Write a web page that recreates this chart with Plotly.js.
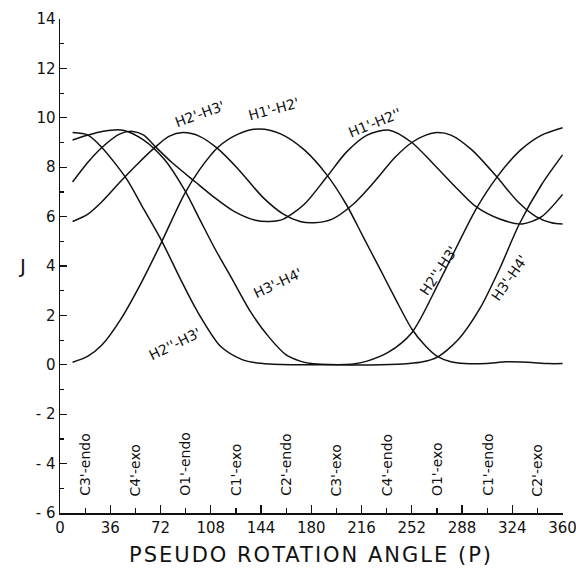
<!DOCTYPE html>
<html>
<head>
<meta charset="utf-8">
<script src="https://cdn.plot.ly/plotly-3.0.1.min.js"></script>
<style>html,body{margin:0;padding:0;background:#fff;}#chart{width:576px;height:574px;}</style>
</head>
<body>
<div id="chart"></div>
<script>
// Pseudorotation angle P (degrees) and coupling constant J (Hz) for each proton pair
const P_H2pp_H3p = [9, 20, 30, 48, 60, 73, 86, 98, 115, 130, 138, 150, 180, 210, 220, 235, 252, 272, 298, 313, 330, 345, 360];
const J_H2pp_H3p = [9.4, 9.3, 8.8, 7.5, 6.3, 5.0, 3.5, 2.2, 0.75, 0.22, 0.1, 0.03, 0.0, 0.03, 0.15, 0.5, 1.3, 3.4, 6.3, 7.6, 8.7, 9.3, 9.6];

const P_H3p_H4p = [9, 20, 30, 45, 60, 75, 89, 100, 110, 124, 137, 150, 162, 172, 180, 200, 230, 250, 260, 270, 285, 301, 315, 329, 345, 360];
const J_H3p_H4p = [9.1, 9.3, 9.45, 9.5, 9.1, 8.3, 7.1, 5.9, 4.8, 3.4, 2.1, 1.1, 0.4, 0.15, 0.05, 0.0, 0.0, 0.05, 0.12, 0.3, 1.0, 2.3, 3.9, 5.7, 7.3, 8.5];

const P_H1p_H2p = [9, 20, 30, 43, 58, 73, 89, 100, 113, 128, 143, 158, 175, 191, 205, 217, 229, 240, 252, 262, 270, 280, 290, 305, 320, 335, 350, 360];
const J_H1p_H2p = [0.1, 0.35, 0.8, 1.8, 3.3, 5.0, 6.9, 7.9, 8.8, 9.35, 9.55, 9.35, 8.7, 7.7, 6.5, 5.2, 3.9, 2.7, 1.45, 0.75, 0.35, 0.12, 0.05, 0.05, 0.12, 0.1, 0.05, 0.05];

const P_H1p_H2pp = [9, 20, 30, 43, 52, 60, 68, 80, 97, 110, 125, 140, 150, 160, 175, 191, 205, 220, 236, 252, 268, 285, 298, 315, 331, 345, 360];
const J_H1p_H2pp = [7.4, 8.2, 8.8, 9.35, 9.45, 9.3, 8.85, 8.2, 7.4, 6.8, 6.2, 5.85, 5.8, 5.9, 6.5, 7.6, 8.6, 9.3, 9.5, 9.0, 8.1, 7.1, 6.4, 5.9, 5.7, 6.0, 6.9];

const P_H2p_H3p = [9, 20, 30, 43, 55, 68, 78, 88, 100, 113, 128, 145, 160, 172, 182, 195, 210, 225, 240, 252, 262, 270, 280, 295, 313, 328, 341, 352, 360];
const J_H2p_H3p = [5.8, 6.1, 6.6, 7.4, 8.1, 8.8, 9.25, 9.4, 9.25, 8.75, 7.9, 6.8, 6.1, 5.8, 5.75, 5.9, 6.5, 7.4, 8.4, 9.0, 9.3, 9.4, 9.3, 8.7, 7.6, 6.6, 6.0, 5.75, 5.7];

// Axis ticks
const xTickVals = [0, 36, 72, 108, 144, 180, 216, 252, 288, 324, 360];
const xTickText = ["0", "36", "72", "108", "144", "180", "216", "252", "288", "324", "360"];
const yTickVals = [-6, -4, -2, 0, 2, 4, 6, 8, 10, 12, 14];
const yTickText = ["- 6", "- 4", "- 2", "0", "2", "4", "6", "8", "10", "12", "14"];

// Ring conformations along the pseudorotation cycle
const conformP = [18, 54, 90, 126, 162, 198, 234, 270, 306, 342];
const conformNames = ["C3'-endo", "C4'-exo", "O1'-endo", "C1'-exo", "C2'-endo", "C3'-exo", "C4'-endo", "O1'-exo", "C1'-endo", "C2'-exo"];

// Curve labels: text, P, J, angle
const labelText = ["H2'-H3'", "H1'-H2'", "H1'-H2''", "H3'-H4'", "H2''-H3'", "H2''-H3'", "H3'-H4'"];
const labelP = [100, 153, 225, 156, 82, 271, 322];
const labelJ = [10.15, 10.35, 9.8, 3.3, 0.85, 3.8, 3.5];
const labelAngle = [-20, -15, -22, -25, -26, -56, -55];

const lineStyle = {color: '#111', width: 1.5, shape: 'spline', smoothing: 0.8};
const series = [
  [P_H2pp_H3p, J_H2pp_H3p, "H2''-H3'"],
  [P_H3p_H4p, J_H3p_H4p, "H3'-H4'"],
  [P_H1p_H2p, J_H1p_H2p, "H1'-H2'"],
  [P_H1p_H2pp, J_H1p_H2pp, "H1'-H2''"],
  [P_H2p_H3p, J_H2p_H3p, "H2'-H3'"]
];
const traces = series.map(s => ({x: s[0], y: s[1], name: s[2], mode: 'lines', line: lineStyle, hoverinfo: 'x+y+name'}));

const font = 'DejaVu Sans, Liberation Sans, sans-serif';
const annotations = [];
conformNames.forEach((n, i) => annotations.push({
  x: conformP[i], y: -5.4, xref: 'x', yref: 'y', text: n, showarrow: false,
  textangle: -90, xanchor: 'center', yanchor: 'bottom', font: {family: font, size: 14, color: '#111'}
}));
labelText.forEach((t, i) => annotations.push({
  x: labelP[i], y: labelJ[i], xref: 'x', yref: 'y', text: t, showarrow: false,
  textangle: labelAngle[i], font: {family: font, size: 14, color: '#111'}
}));
annotations.push({x: -0.088, y: 4, xref: 'paper', yref: 'y', text: 'J', showarrow: false,
  font: {family: font, size: 20, color: '#111'}});
annotations.push({x: 180, y: -0.085, xref: 'x', yref: 'paper', text: 'PSEUDO ROTATION ANGLE (P)', showarrow: false,
  yanchor: 'middle', font: {family: font, size: 21, color: '#111'}, name: 'xtitle'});

const layout = {
  width: 576, height: 574,
  margin: {l: 60, r: 13, t: 19, b: 61},
  paper_bgcolor: '#fff', plot_bgcolor: '#fff',
  showlegend: false,
  xaxis: {
    range: [0, 360.3], tickvals: xTickVals, ticktext: xTickText,
    ticks: 'inside', ticklen: 8, tickwidth: 1.3, tickcolor: '#111',
    showline: true, linecolor: '#111', linewidth: 1.5, showgrid: false, zeroline: false,
    ticklabeloverflow: 'allow',
    minor: {tickvals: conformP, ticks: 'inside', ticklen: 5, tickwidth: 1.2, tickcolor: '#111', showgrid: false},
    tickfont: {family: font, size: 15, color: '#111'}
  },
  yaxis: {
    range: [-6, 14], tickvals: yTickVals, ticktext: yTickText,
    ticks: 'inside', ticklen: 7, tickwidth: 1.3, tickcolor: '#111',
    showline: true, linecolor: '#111', linewidth: 1.5, showgrid: false, zeroline: false,
    minor: {dtick: 1, ticks: 'inside', ticklen: 4, tickwidth: 1.2, tickcolor: '#111', showgrid: false},
    tickfont: {family: font, size: 15, color: '#111'}
  },
  annotations: annotations
};

Plotly.newPlot('chart', traces, layout, {displayModeBar: false, staticPlot: true}).then(() => {
  const texts = document.querySelectorAll('.annotation-text');
  texts.forEach(t => {
    if (t.textContent === 'PSEUDO ROTATION ANGLE (P)') {
      t.style.letterSpacing = '2px';
    }
  });
});
</script>
</body>
</html>
